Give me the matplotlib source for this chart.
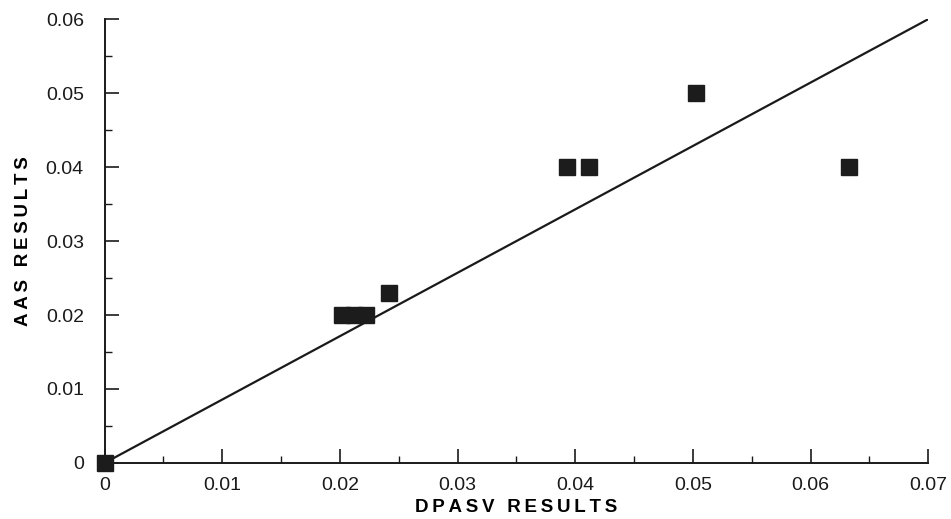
import matplotlib.pyplot as plt
from matplotlib.ticker import MultipleLocator, FuncFormatter

# measured points (DPASV vs AAS)
dpasv = [0.0, 0.0202, 0.0212, 0.0222, 0.0242, 0.0393, 0.0412, 0.0503, 0.0633]
aas = [0.0, 0.020, 0.020, 0.020, 0.023, 0.040, 0.040, 0.050, 0.040]

# reference line
line_x = [0.0, 0.07]
line_y = [0.0, 0.06]

plt.rcParams['font.family'] = ['Liberation Sans', 'DejaVu Sans']


def fmt(v, pos):
    if abs(v) < 1e-9:
        return '0'
    return f'{v:.2f}'


def spaced(s):
    return '\u2009'.join(s)


fig = plt.figure(figsize=(9.51, 5.19), dpi=100)
ax = fig.add_axes([0.110, 0.108, 0.866, 0.855])

ax.plot(line_x, line_y, color='#1a1a1a', linewidth=1.6, zorder=2)
ax.plot(dpasv, aas, 's', color='#1c1c1c', markersize=11.5, zorder=3,
        clip_on=False)

ax.set_xlim(0, 0.07)
ax.set_ylim(0, 0.06)
ax.xaxis.set_major_locator(MultipleLocator(0.01))
ax.xaxis.set_minor_locator(MultipleLocator(0.005))
ax.yaxis.set_major_locator(MultipleLocator(0.01))
ax.yaxis.set_minor_locator(MultipleLocator(0.005))
ax.xaxis.set_major_formatter(FuncFormatter(fmt))
ax.yaxis.set_major_formatter(FuncFormatter(fmt))

for side in ['top', 'right']:
    ax.spines[side].set_visible(False)
for side in ['left', 'bottom']:
    ax.spines[side].set_linewidth(1.4)
    ax.spines[side].set_color('#1a1a1a')

ax.tick_params(which='major', direction='in', length=10, width=1.2,
               labelsize=14, colors='#1a1a1a')
ax.tick_params(which='minor', direction='in', length=5, width=1.0,
               colors='#1a1a1a')
ax.tick_params(axis='x', pad=10)
ax.tick_params(axis='y', pad=15)

ax.set_xlabel(spaced('DPASV RESULTS'), fontsize=13.5, fontweight='bold',
              labelpad=4)
ax.set_ylabel(spaced('AAS RESULTS'), fontsize=13.5, fontweight='bold',
              labelpad=10)

fig.savefig('out.png', dpi=100)
